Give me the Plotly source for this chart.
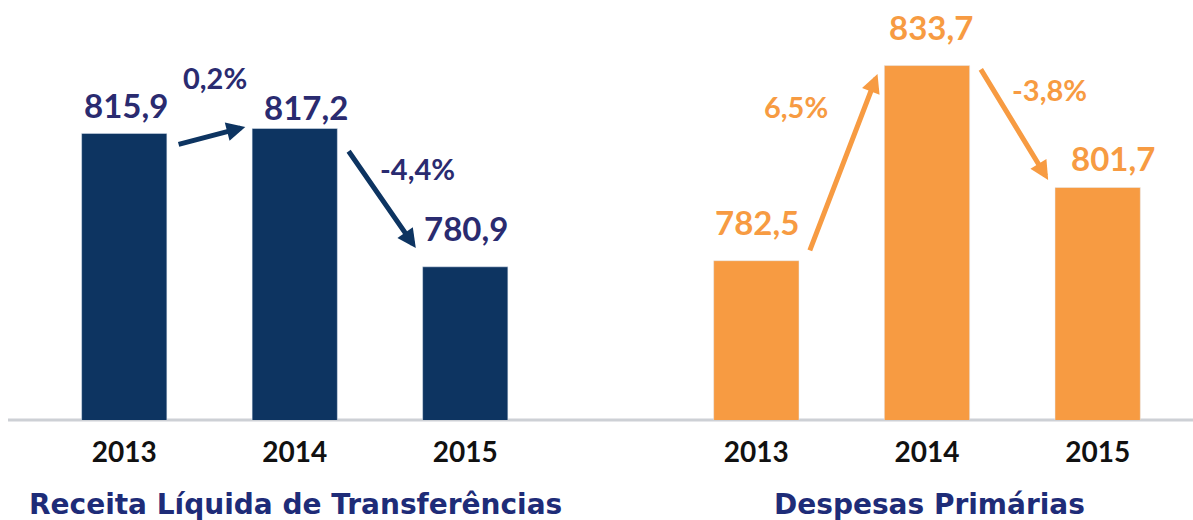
import plotly.graph_objects as go

years = ["2013", "2014", "2015"]
receita = [815.9, 817.2, 780.9]
despesas = [782.5, 833.7, 801.7]
panel_titles = ["Receita Líquida de Transferências", "Despesas Primárias"]

NAVY_BAR = "#0D3461"
NAVY_TXT = "#2A2B70"
NAVY_TTL = "#1E2C78"
ORANGE = "#F79B42"

Y0, Y1 = 740.7, 850.9

def br(v, d=1):
    return f"{v:.{d}f}".replace(".", ",")

fig = go.Figure()
xs = list(range(len(years)))
fig.add_trace(go.Bar(x=xs, y=receita, marker_color=NAVY_BAR, width=0.5,
                     xaxis="x", yaxis="y", showlegend=False, hoverinfo="skip"))
fig.add_trace(go.Bar(x=xs, y=despesas, marker_color=ORANGE, width=0.5,
                     xaxis="x2", yaxis="y", showlegend=False, hoverinfo="skip"))

ann = []
# value labels (style offsets per label)
val_dx = [[2, 11, 1], [1, 4, 15]]
val_dy = [[28, 21, 39], [39, 39, 30]]
arr_tail_dy = [[-3.0, -5.6], [2.3, -0.6]]
arr_head_dy = [[0.4, 4.9], [-2.2, 2.0]]
pct_pos = [[(0.53, 830.5), (1.72, 806.8)], [(0.23, 822.9), (1.72, 827.3)]]

for p, (vals, col, tcol, xr) in enumerate([(receita, NAVY_BAR, NAVY_TXT, "x"),
                                           (despesas, ORANGE, ORANGE, "x2")]):
    for i, v in enumerate(vals):
        ann.append(dict(x=i, y=v, xref=xr, yref="y", text=br(v), showarrow=False,
                        xshift=val_dx[p][i], yshift=val_dy[p][i],
                        font=dict(family="Lato", size=33, color=tcol, weight="bold")))
    for i in range(len(vals) - 1):
        ann.append(dict(x=i + 1 - 0.29, y=vals[i + 1] + arr_head_dy[p][i],
                        ax=i + 0.31, ay=vals[i] + arr_tail_dy[p][i],
                        xref=xr, yref="y", axref=xr, ayref="y", text="",
                        showarrow=True, arrowhead=2, arrowsize=0.75, arrowwidth=5,
                        arrowcolor=col))
        pct = (vals[i + 1] / vals[i] - 1) * 100
        px_, py_ = pct_pos[p][i]
        ann.append(dict(x=px_, y=py_, xref=xr, yref="y", text=br(pct) + "%",
                        showarrow=False,
                        font=dict(family="Lato", size=29, color=tcol, weight="bold")))

for t, cx in zip(panel_titles, [0.248, 0.779]):
    ann.append(dict(x=cx, y=-0.2, xref="paper", yref="paper", xanchor="center",
                    yanchor="middle", text=t, showarrow=False,
                    font=dict(family="DejaVu Sans", size=28, color=NAVY_TTL, weight="bold")))

axis_common = dict(tickmode="array", tickvals=xs, ticktext=years, range=[-0.5, 2.5],
                   showgrid=False, zeroline=False, showline=False, ticks="",
                   ticklabelstandoff=13,
                   tickfont=dict(family="Lato", size=28, color="#111111", weight="bold"))

fig.update_layout(
    width=1193, height=520,
    margin=dict(l=0, r=0, t=0, b=100),
    paper_bgcolor="white", plot_bgcolor="white",
    xaxis=dict(domain=[39 / 1193, 550.5 / 1193], **axis_common),
    xaxis2=dict(domain=[671 / 1193, 1183 / 1193], anchor="y", **axis_common),
    yaxis=dict(range=[Y0, Y1], visible=False),
    annotations=ann,
    shapes=[dict(type="line", xref="paper", yref="paper", x0=8 / 1193, x1=1, y0=0, y1=0,
                 line=dict(color="#CDD0D5", width=3), layer="below")],
)

fig.write_html("out.html", config={"displayModeBar": False},
               post_script="document.body.style.margin='0px';")
